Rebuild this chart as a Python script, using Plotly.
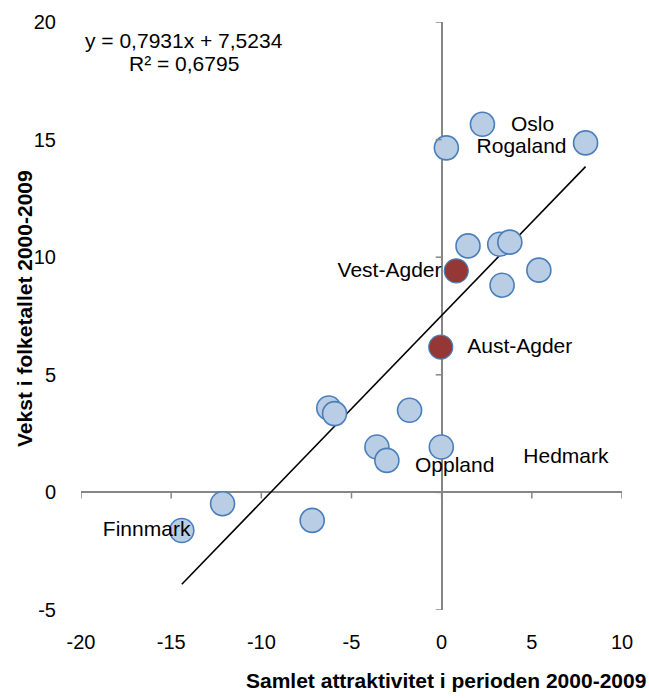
import numpy as np
import plotly.graph_objects as go

# Blue points (other counties)
x_blue = [2.26, 0.26, 7.98, 1.46, 3.22, 3.78, 5.39, 3.35,
          -6.26, -5.94, -1.78, -3.59, -3.04, -0.02,
          -12.15, -7.18, -14.41]
y_blue = [15.65, 14.65, 14.86, 10.48, 10.55, 10.64, 9.45, 8.81,
          3.59, 3.35, 3.49, 1.93, 1.36, 1.93,
          -0.48, -1.19, -1.62]
# Red points (Agder)
x_red = [0.81, -0.05]
y_red = [9.42, 6.18]

# Trend line coefficients
slope = 0.7931
intercept = 7.5234
eq_text = "y = 0,7931x + 7,5234"
r2_text = "R² = 0,6795"

# Labels
label_text = ["Oslo", "Rogaland", "Vest-Agder", "Aust-Agder", "Oppland", "Hedmark", "Finnmark"]
label_x = [5.04, 4.43, -2.89, 4.33, 0.72, 6.89, -16.36]
label_y = [15.57, 14.64, 9.37, 6.14, 1.08, 1.46, -1.62]

x_ticks = [-20, -15, -10, -5, 0, 5, 10]
x_ticktext = ["-20", "-15", "-10", "-5", "0", "5", "10"]
y_ticks = [-5, 0, 5, 10, 15, 20]
y_ticktext = ["-5", "0", "5", "10", "15", "20"]

x_title = "Samlet attraktivitet i perioden 2000-2009"
y_title = "Vekst i folketallet 2000-2009"

FONT = "Liberation Sans, Arial, sans-serif"
all_x = x_blue + x_red
tx = np.array([min(all_x), max(all_x)])
ty = slope * tx + intercept

W, H = 649, 698
L, R, T, B = 81, 27, 22, 88

fig = go.Figure()
fig.add_trace(go.Scatter(x=tx, y=ty, mode="lines",
                         line=dict(color="black", width=1.6), hoverinfo="skip"))
fig.add_trace(go.Scatter(x=x_blue, y=y_blue, mode="markers",
                         marker=dict(size=24, color="#B9CDE5",
                                     line=dict(color="#4A7EBB", width=1.6))))
fig.add_trace(go.Scatter(x=label_x, y=label_y, mode="text", text=label_text,
                         textposition="middle center",
                         textfont=dict(family=FONT, size=21, color="black")))
fig.add_trace(go.Scatter(x=x_red, y=y_red, mode="markers",
                         marker=dict(size=24, color="#953735",
                                     line=dict(color="#4A7EBB", width=1.2))))

shapes = []
for t in x_ticks:
    shapes.append(dict(type="line", xref="x", yref="y", ysizemode="pixel",
                       yanchor=0, x0=t, x1=t, y0=0, y1=-6,
                       line=dict(color="#868686", width=1.5)))
for t in y_ticks:
    shapes.append(dict(type="line", xref="x", yref="y", xsizemode="pixel",
                       xanchor=0, y0=t, y1=t, x0=0, x1=-6,
                       line=dict(color="#868686", width=1.5)))

pw = W - L - R
ph = H - T - B
def px_to_paper(px, py):
    return (px - L) / pw, 1 - (py - T) / ph

ex, ey = px_to_paper(184, 40)
rx, ry = px_to_paper(184, 64)
xtx, xty = px_to_paper(648, 680)
ytx, yty = px_to_paper(24, 309)

fig.update_layout(
    width=W, height=H,
    margin=dict(l=L, r=R, t=T, b=B),
    plot_bgcolor="white", paper_bgcolor="white",
    showlegend=False,
    font=dict(family=FONT, size=20, color="black"),
    shapes=shapes,
    xaxis=dict(range=[-20, 10], tickvals=x_ticks, ticktext=x_ticktext,
               showgrid=False, zeroline=True, zerolinecolor="#868686", zerolinewidth=1.5,
               showline=False, ticks="outside", ticklen=14, tickcolor="rgba(0,0,0,0)",
               tickfont=dict(size=20)),
    yaxis=dict(range=[-5, 20], tickvals=y_ticks, ticktext=y_ticktext,
               showgrid=False, zeroline=True, zerolinecolor="#868686", zerolinewidth=1.5,
               showline=False, ticks="outside", ticklen=20, tickcolor="rgba(0,0,0,0)",
               tickfont=dict(size=20)),
    annotations=[
        dict(text=eq_text, x=ex, y=ey, xref="paper", yref="paper", showarrow=False,
             font=dict(size=21), xanchor="center", yanchor="middle"),
        dict(text=r2_text, x=rx, y=ry, xref="paper", yref="paper", showarrow=False,
             font=dict(size=21), xanchor="center", yanchor="middle"),
        dict(text="<b>" + x_title + "</b>", x=xtx, y=xty, xref="paper", yref="paper",
             showarrow=False, font=dict(size=21), xanchor="right", yanchor="middle"),
        dict(text="<b>" + y_title + "</b>", x=ytx, y=yty, xref="paper", yref="paper",
             showarrow=False, font=dict(size=21), textangle=-90,
             xanchor="center", yanchor="middle"),
    ],
)

fig.write_html("out.html", config={"displayModeBar": False},
               post_script="document.body.style.margin='0';document.body.style.overflow='hidden';")
